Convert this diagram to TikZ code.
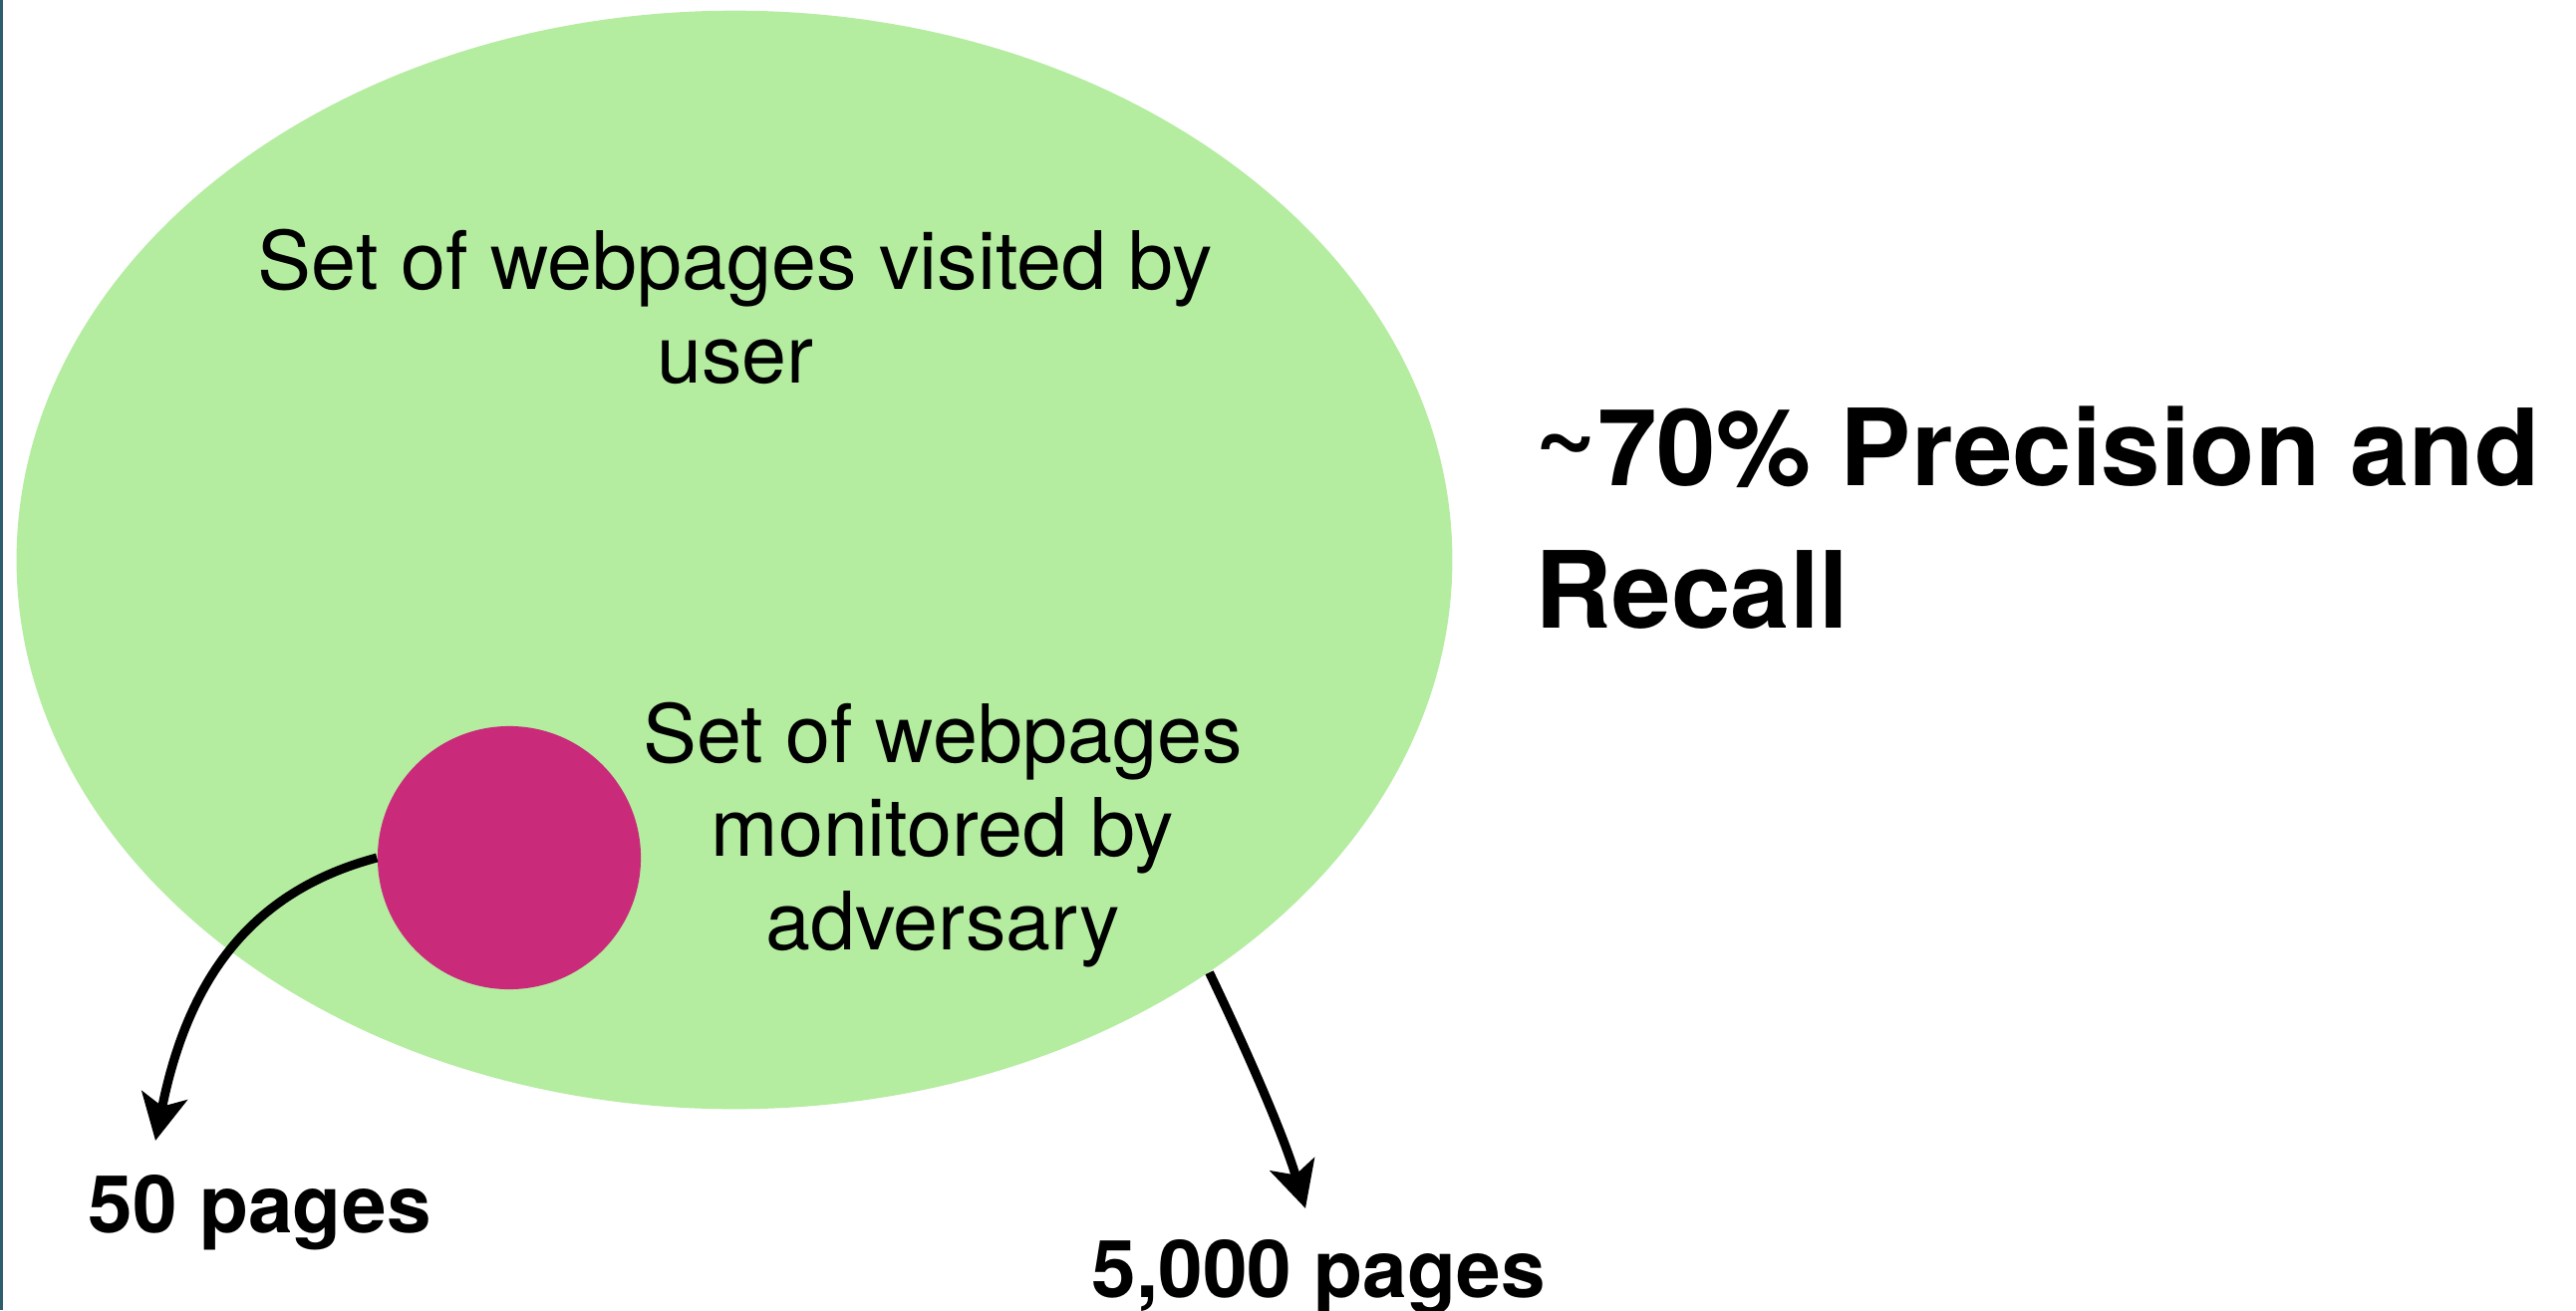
\documentclass[tikz,border=0pt]{standalone}
\usepackage{fontspec}
\setmainfont{TeX Gyre Heros}
\usetikzlibrary{shapes.geometric,arrows.meta}
\definecolor{setgreen}{RGB}{180,236,160}
\definecolor{setpink}{RGB}{201,42,122}
\definecolor{edgeteal}{RGB}{46,94,110}
\begin{document}
\begin{tikzpicture}[x=0.01cm,y=-0.01cm,
  bodytext/.style={align=center, inner sep=0pt, font=\fontsize{23}{26.7}\selectfont},
  titletext/.style={align=left, inner sep=0pt, font=\fontsize{30.4}{40.7}\selectfont\bfseries},
  countlbl/.style={inner sep=0pt, font=\fontsize{22.8}{26}\selectfont\bfseries},
  conn/.style={line width=0.09cm, -{Stealth[length=0.46cm, width=0.46cm, inset=0.11cm]}}]
  \useasboundingbox (0,0) rectangle (2585,1315);
  % thin rule along the left edge
  \fill[edgeteal] (0,0) rectangle (2.5,1315);
  % the two sets
  \node[ellipse, fill=setgreen, minimum width=14.4cm, minimum height=11.02cm, inner sep=0pt] (user) at (737,562) {};
  \node[circle, fill=setpink, minimum size=2.64cm, inner sep=0pt] (adv) at (511,861) {};
  % labels
  \node[bodytext] (userlbl) at (738,308) {Set of webpages visited by\\user};
  \node[bodytext] (advlbl) at (946,838) {Set of webpages\\monitored by\\adversary};
  \node[titletext, anchor=west] (result) at (1540,520) {\raisebox{0.17em}{\textasciitilde}70\% Precision and\\Recall};
  \node[countlbl, anchor=base west] (small) at (88,1237) {50 pages};
  \node[countlbl, anchor=base west] (large) at (1095,1302) {5,000 pages};
  % arrow tips above the counts
  \coordinate (smalltip) at (156,1145);
  \coordinate (largetip) at (1310,1213);
  \draw[conn] (adv.west) .. controls (258,893) and (190,975) .. (smalltip);
  \draw[conn] (user.-41) .. controls (1248,1048) and (1287,1136) .. (largetip);
\end{tikzpicture}
\end{document}
